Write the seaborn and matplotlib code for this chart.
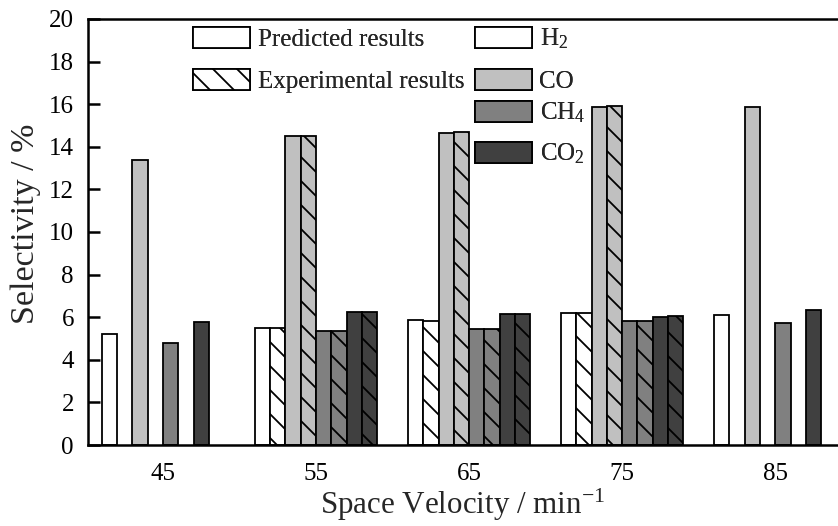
import numpy as np
import pandas as pd
import matplotlib
matplotlib.use("Agg")
import matplotlib.pyplot as plt
from matplotlib.patches import Patch
import seaborn as sns

# Space velocities (min^-1)
velocities = ["45", "55", "65", "75", "85"]

# Predicted selectivities (%)
pred_h2 = [5.20, 5.48, 5.87, 6.18, 6.10]
pred_co = [13.38, 14.52, 14.66, 15.88, 15.85]
pred_ch4 = [4.80, 5.35, 5.45, 5.84, 5.71]
pred_co2 = [5.77, 6.26, 6.13, 6.02, 6.34]

# Experimental selectivities (%), only measured at 55, 65 and 75
exp_h2 = [np.nan, 5.48, 5.80, 6.18, np.nan]
exp_co = [np.nan, 14.52, 14.68, 15.90, np.nan]
exp_ch4 = [np.nan, 5.35, 5.45, 5.84, np.nan]
exp_co2 = [np.nan, 6.26, 6.13, 6.07, np.nan]

gases = ["H2", "CO", "CH4", "CO2"]
gas_labels = [r"$\mathregular{H_2}$", "CO", r"$\mathregular{CH_4}$", r"$\mathregular{CO_2}$"]
gas_colors = ["#ffffff", "#c0c0c0", "#808080", "#404040"]
predicted = [pred_h2, pred_co, pred_ch4, pred_co2]
experimental = [exp_h2, exp_co, exp_ch4, exp_co2]

rows = []
order = []
palette = {}
for gas, color, p_vals, e_vals in zip(gases, gas_colors, predicted, experimental):
    for kind, vals in (("pred", p_vals), ("exp", e_vals)):
        key = f"{gas} {kind}"
        order.append(key)
        palette[key] = color
        for v, sel in zip(velocities, vals):
            if not np.isnan(sel):
                rows.append({"Velocity": v, "Series": key, "Selectivity": sel})
df = pd.DataFrame(rows)

sns.set_style("ticks")
plt.rcParams["font.family"] = ["Liberation Serif", "DejaVu Serif"]
plt.rcParams["hatch.linewidth"] = 1.8
plt.rcParams["hatch.color"] = "black"

W, H = 838, 526
fig = plt.figure(figsize=(W / 72, H / 72), dpi=72)
ax = fig.add_axes([88 / W, 1 - 445 / H, (838 - 88) / W, (445 - 19) / H])

sns.barplot(data=df, x="Velocity", y="Selectivity", hue="Series",
            order=velocities, hue_order=order, palette=palette,
            width=0.8, errorbar=None, edgecolor="black", linewidth=1.8,
            legend=False, ax=ax)

# Experimental bars sit in the odd slots of each 8-slot group: hatch them
slot_w = 0.8 / len(order)
for bar in ax.patches:
    cx = bar.get_x() + bar.get_width() / 2
    slot = int(round((cx - round(cx) + 0.4) / slot_w - 0.5))
    if slot % 2 == 1:
        bar.set_hatch("\\")

ax.set_xlim(-0.49, 4.41)
ax.set_ylim(0, 20)
ax.set_yticks(np.arange(0, 21, 2))

for side in ("left", "bottom", "top"):
    ax.spines[side].set_linewidth(2.5)
    ax.spines[side].set_color("black")
ax.spines["right"].set_visible(False)

ax.tick_params(axis="y", direction="in", length=12, width=2.5, pad=14,
               labelsize=25, colors="black")
ax.tick_params(axis="x", length=0, pad=18, labelsize=25, colors="black")

ax.set_ylabel("Selectivity / %", fontsize=34)
ax.yaxis.set_label_coords(-0.062, 0.52)
ax.set_xlabel(r"Space Velocity / min$\mathregular{^{-1}}$", fontsize=31, labelpad=2)

LEG_FS = 25
common = dict(loc="center left", frameon=False, fontsize=LEG_FS,
              handlelength=57 / LEG_FS, handleheight=23 / LEG_FS,
              handletextpad=0.3, borderpad=0, borderaxespad=0)

# Result-type legend entries
kind_handles = [
    Patch(facecolor="white", edgecolor="black", linewidth=1.8),
    Patch(facecolor="white", edgecolor="black", linewidth=1.8, hatch="\\"),
]
kind_labels = ["Predicted results", "Experimental results"]
for h, lab, yc in zip(kind_handles, kind_labels, [39, 81]):
    fig.add_artist(fig.legend([h], [lab], bbox_to_anchor=(193 / W, 1 - yc / H), **common))

# Gas legend entries
gas_handles = [Patch(facecolor=c, edgecolor="black", linewidth=1.8) for c in gas_colors]
for h, lab, yc in zip(gas_handles, gas_labels, [39, 81, 113, 154]):
    fig.add_artist(fig.legend([h], [lab], bbox_to_anchor=(475 / W, 1 - yc / H), **common))

fig.savefig("out.png", dpi=72)
